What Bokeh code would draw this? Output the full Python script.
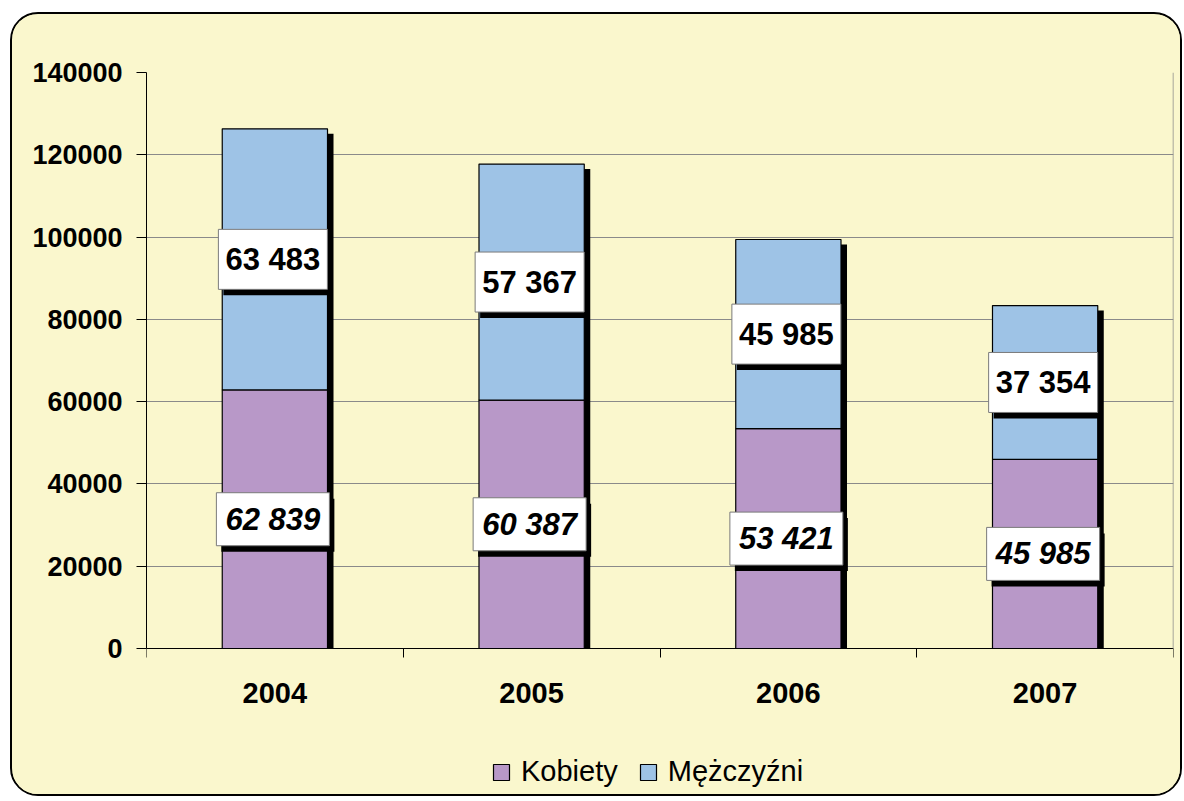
import numpy as np
from bokeh.plotting import figure
from bokeh.models import (Legend, LegendItem, FixedTicker, LinearAxis,
                          NumeralTickFormatter, Range1d, ColumnDataSource)
from bokeh.core.properties import value
from bokeh.embed import file_html
from bokeh.resources import INLINE

# ---- data ----
years = ["2004", "2005", "2006", "2007"]
kobiety = [62839, 60387, 53421, 45985]
mezczyzni = [63483, 57367, 45985, 37354]
k_labels = ["62 839", "60 387", "53 421", "45 985"]
m_labels = ["63 483", "57 367", "45 985", "37 354"]
y_ticks = [0, 20000, 40000, 60000, 80000, 100000, 120000, 140000]

# ---- style constants ----
BG = "#FAF7CD"
C_K = "#B898C8"
C_M = "#9EC3E6"
FONT_NAME = "Liberation Sans"
FONT = value(FONT_NAME)
BORDER = 2
W, H = 1172, 784
ML, MR, MT, MB = 134, 11, 58, 4
FW, FH = W - ML - MR, H - MT - MB
PLOT_H = 576                      # pixel height of the 0..140000 value area
YMAX = 140000
NX = len(years)
px_x = NX / FW
px_y = YMAX / PLOT_H
YMIN = -(FH - PLOT_H) * px_y      # extra room below zero for labels & legend

xs = np.arange(NX) + 0.5
k = np.array(kobiety, dtype=float)
m = np.array(mezczyzni, dtype=float)
tot = k + m

src = ColumnDataSource(dict(
    x=xs, k=k, tot=tot, zero=np.zeros(NX),
    xs_sh=xs + 6 * px_x, tot_sh=tot - 5 * px_y,
    k_mid=k / 2, m_mid=k + m / 2,
    k_mid_sh=k / 2 - 6 * px_y, m_mid_sh=k + m / 2 - 6 * px_y,
    xl=xs - 2 * px_x, xl_sh=xs + 3 * px_x,
    kl=k_labels, ml=m_labels,
))

p = figure(width=W, height=H, x_range=Range1d(0, NX), y_range=Range1d(YMIN, YMAX),
           output_backend="svg", toolbar_location=None,
           min_border_left=ML, min_border_right=MR, min_border_top=MT, min_border_bottom=MB,
           background_fill_color=BG, border_fill_color=BG,
           outline_line_color=None,
           styles={"margin-left": "10px", "margin-top": "12px",
                   "border": f"{BORDER}px solid black", "border-radius": "28px",
                   "overflow": "hidden", "background-color": BG})

# x axis, fixed at value 0
p.xaxis.fixed_location = 0
p.xaxis.ticker = FixedTicker(ticks=list(xs), minor_ticks=list(range(NX + 1)))
p.xaxis.major_label_overrides = {float(x): y for x, y in zip(xs, years)}
p.xaxis.major_tick_out = 0
p.xaxis.major_tick_in = 0
p.xaxis.minor_tick_out = 9
p.xaxis.minor_tick_in = 0
p.xaxis.minor_tick_line_color = "black"
p.xaxis.major_label_standoff = 25
p.xaxis.major_label_text_font = FONT_NAME
p.xaxis.major_label_text_font_style = "bold"
p.xaxis.major_label_text_font_size = "29px"
p.xaxis.major_label_text_color = "black"
p.xaxis.axis_line_color = "black"

p.yaxis.ticker = FixedTicker(ticks=y_ticks, minor_ticks=[])
p.yaxis.bounds = (0, YMAX)
p.yaxis.formatter = NumeralTickFormatter(format="0")
p.yaxis.major_tick_out = 10
p.yaxis.major_tick_in = 0
p.yaxis.major_tick_line_color = "black"
p.yaxis.major_label_standoff = 14
p.yaxis.major_label_text_font = FONT_NAME
p.yaxis.major_label_text_font_style = "bold"
p.yaxis.major_label_text_font_size = "27px"
p.yaxis.major_label_text_color = "black"
p.yaxis.axis_line_color = "black"

# right edge of the plot area (grey line)
right_ax = LinearAxis(ticker=FixedTicker(ticks=[], minor_ticks=[]), bounds=(0, YMAX),
                      fixed_location=NX, axis_line_color="#8a8a8a", axis_line_width=1.5,
                      major_tick_line_color=None, minor_tick_line_color=None)
p.add_layout(right_ax, "right")

p.xgrid.visible = False
p.ygrid.grid_line_color = "#8a8a8a"
p.ygrid.grid_line_width = 1

BW = 0.41
# bar shadow
p.vbar(x="xs_sh", width=BW, bottom="zero", top="tot_sh", source=src,
       fill_color="black", line_color=None)
rk = p.vbar(x="x", width=BW, bottom="zero", top="k", source=src,
            fill_color=C_K, line_color="black", line_width=1.2)
rm = p.vbar(x="x", width=BW, bottom="k", top="tot", source=src,
            fill_color=C_M, line_color="black", line_width=1.2)

# label boxes (shadow + box + text)
p.rect(x="xl_sh", y="k_mid_sh", width=113, height=53, width_units="screen",
       height_units="screen", source=src, fill_color="black", line_color=None)
p.rect(x="xl", y="k_mid", width=113, height=53, width_units="screen",
       height_units="screen", source=src, fill_color="white", line_color="#7a7a7a", line_width=1)
p.text(x="xl", y="k_mid", text="kl", source=src, text_font=FONT, text_font_style="bold italic",
       text_font_size="31px", text_align="center", text_baseline="middle", text_color="black")

p.rect(x="xl_sh", y="m_mid_sh", width=109, height=60, width_units="screen",
       height_units="screen", source=src, fill_color="black", line_color=None)
p.rect(x="xl", y="m_mid", width=109, height=60, width_units="screen",
       height_units="screen", source=src, fill_color="white", line_color="#7a7a7a", line_width=1)
p.text(x="xl", y="m_mid", text="ml", source=src, text_font=FONT, text_font_style="bold",
       text_font_size="31px", text_align="center", text_baseline="middle", text_color="black")

legend = Legend(items=[LegendItem(label="Kobiety", renderers=[rk]),
                       LegendItem(label="Mężczyźni", renderers=[rm])],
                location=(345, 6), orientation="horizontal",
                padding=0, margin=0, spacing=20, label_standoff=10,
                glyph_width=20, glyph_height=20,
                background_fill_alpha=0, border_line_color=None,
                label_text_font=FONT_NAME, label_text_font_size="29px", label_text_color="black")
p.add_layout(legend)

open("out.html", "w").write(file_html(p, INLINE))
